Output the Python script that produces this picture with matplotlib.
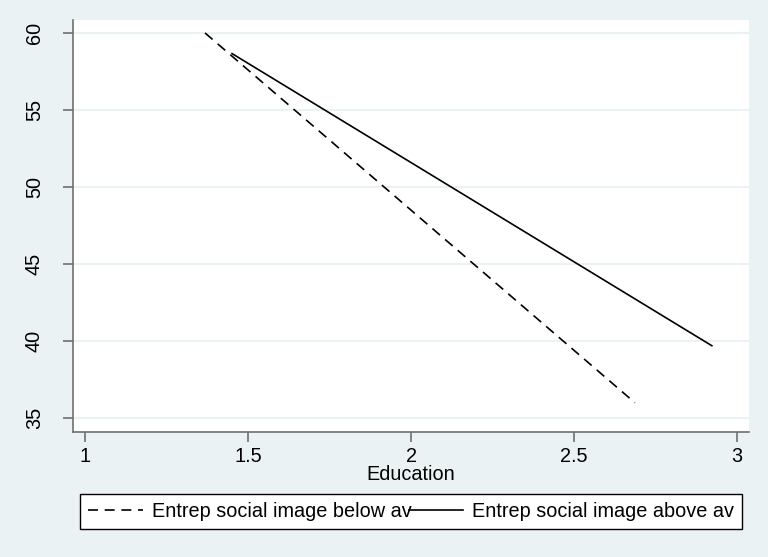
import matplotlib.pyplot as plt

# Fitted lines of the outcome against education, split by social image group
below_label = "Entrep social image below av"
below_x = [1.368, 2.687]
below_y = [60.0, 36.0]

above_label = "Entrep social image above av"
above_x = [1.451, 2.923]
above_y = [58.66, 39.7]

x_ticks = [1, 1.5, 2, 2.5, 3]
x_tick_labels = ["1", "1.5", "2", "2.5", "3"]
y_ticks = [35, 40, 45, 50, 55, 60]

bg = "#eaf2f3"
axis_grey = "#707070"
fs = 14.3

plt.rcParams["font.family"] = ["Liberation Sans", "DejaVu Sans"]

fig = plt.figure(figsize=(7.68, 5.57), dpi=100, facecolor=bg)
ax = fig.add_axes([73 / 768, 1 - 432 / 557, 676 / 768, 412 / 557])
ax.set_facecolor("white")

ax.plot(below_x, below_y, color="black", lw=1.2, dashes=(6.0, 4.0), label=below_label)
ax.plot(above_x, above_y, color="black", lw=1.2, label=above_label)

ax.set_xlim(0.963, 3.037)
ax.set_ylim(34.1, 60.84)
ax.set_xticks(x_ticks)
ax.set_xticklabels(x_tick_labels)
ax.set_yticks(y_ticks)
ax.set_yticklabels([str(v) for v in y_ticks], rotation=90, va="center")

ax.grid(axis="y", color=bg, lw=1.5)
ax.set_axisbelow(True)
for side in ("top", "right"):
    ax.spines[side].set_visible(False)
for side in ("left", "bottom"):
    ax.spines[side].set_color(axis_grey)
    ax.spines[side].set_linewidth(1.2)
ax.tick_params(colors=axis_grey, labelcolor="black", labelsize=fs, length=7, width=1.2)
ax.tick_params(axis="y", pad=14)
ax.tick_params(axis="x", pad=4)

ax.set_xlabel("Education", fontsize=fs, labelpad=-1)

leg = fig.legend(
    loc="lower left",
    bbox_to_anchor=(80 / 768, 1 - 529 / 557, 662 / 768, 35 / 557),
    mode="expand",
    ncol=2,
    fontsize=fs,
    handlelength=2.75,
    handletextpad=0.45,
    borderpad=0.4,
    borderaxespad=0,
    fancybox=False,
    framealpha=1,
    edgecolor="black",
)
leg.get_frame().set_linewidth(1.0)

fig.savefig("out.png", dpi=100, facecolor=bg)
